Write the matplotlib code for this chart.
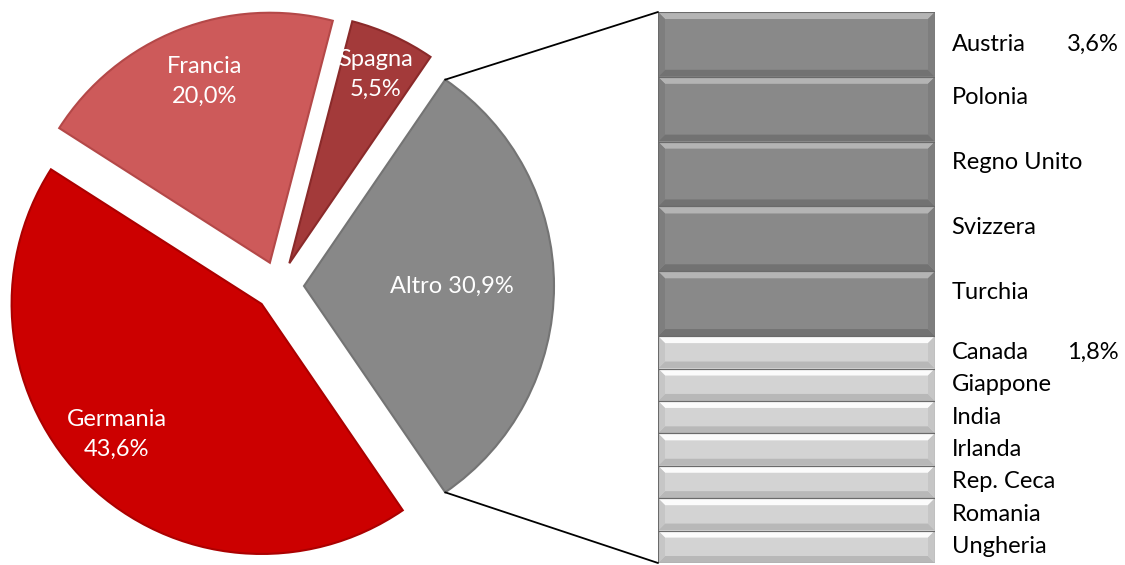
import numpy as np
import matplotlib.pyplot as plt
from matplotlib.patches import Polygon, ConnectionPatch

plt.rcParams['font.family'] = ['Lato', 'DejaVu Sans']

# pie: main countries plus the grouped "Altro" share
pie_labels = ["Altro", "Spagna", "Francia", "Germania"]
pie_values = [30.9, 5.5, 20.0, 43.6]
pie_colors = ["#888888", "#a33a3a", "#cd5a5a", "#cc0000"]
pie_edges = ["#747474", "#8a2a2a", "#b44848", "#ab0000"]

# breakdown of "Altro"
bar_labels = ["Austria", "Polonia", "Regno Unito", "Svizzera", "Turchia",
              "Canada", "Giappone", "India", "Irlanda", "Rep. Ceca",
              "Romania", "Ungheria"]
bar_values = [3.6, 3.6, 3.6, 3.6, 3.6,
              1.8, 1.8, 1.8, 1.8, 1.8, 1.8, 1.8]


def fmt(v):
    return f"{v:.1f}%".replace(".", ",")


W, H = 1125, 565
FS = 17
fig = plt.figure(figsize=(W / 100, H / 100), dpi=100)

# pie axes: centre at (279, 286) px, radius 250 px
cx, cy, half = 279, 286, 300
ax = fig.add_axes([(cx - half) / W, (H - cy - half) / H, 2 * half / W, 2 * half / H])

start = -pie_values[0] / 100 * 360 / 2
wedges, _ = ax.pie(pie_values, colors=pie_colors, startangle=start,
                   explode=[0.1] * 4, counterclock=True, radius=1.0,
                   wedgeprops=dict(linewidth=1.5))
for w, ec in zip(wedges, pie_edges):
    w.set_edgecolor(ec)
ax.set_xlim(-1.2, 1.2)
ax.set_ylim(-1.2, 1.2)
ax.axis("off")

# (distance, angle shift in degrees) of each label inside its wedge
label_pos = [(0.59, 0), (0.83, 0), (0.77, -1.5), (0.78, -4)]
for w, name, v, (d, da) in zip(wedges, pie_labels, pie_values, label_pos):
    tm = np.deg2rad((w.theta1 + w.theta2) / 2 + da)
    x = w.center[0] + d * np.cos(tm)
    y = w.center[1] + d * np.sin(tm)
    txt = f"{name} {fmt(v)}" if name == "Altro" else f"{name}\n{fmt(v)}"
    ax.text(x, y, txt, color="white", fontsize=FS, ha="center", va="center",
            linespacing=1.5)

# stacked bar for the breakdown
bx0, bx1, by0, by1 = 658, 935, 12, 563
bax = fig.add_axes([bx0 / W, (H - by1) / H, (bx1 - bx0) / W, (by1 - by0) / H])
total = sum(bar_values)
bax.set_xlim(0, 1)
bax.set_ylim(total, 0)
bax.axis("off")

ex = 7 / (bx1 - bx0)
ey = 7 * total / (by1 - by0)
bottoms = np.concatenate([[0], np.cumsum(bar_values)[:-1]])
for i, (name, v, b) in enumerate(zip(bar_labels, bar_values, bottoms)):
    dark = v == max(bar_values)
    face = "#898989" if dark else "#d3d3d3"
    top_c = "#b4b4b4" if dark else "#fbfbfb"
    bot_c = "#727272" if dark else "#b8b8b8"
    side_c = "#7e7e7e" if dark else "#c6c6c6"
    bax.bar(0.5, v, bottom=b, width=1, color=face, edgecolor="#6a6a6a",
            linewidth=0.8, zorder=1)
    t, u = b, b + v
    bevels = [
        ([(0, t), (1, t), (1 - ex, t + ey), (ex, t + ey)], top_c),
        ([(0, u), (1, u), (1 - ex, u - ey), (ex, u - ey)], bot_c),
        ([(0, t), (ex, t + ey), (ex, u - ey), (0, u)], side_c),
        ([(1, t), (1 - ex, t + ey), (1 - ex, u - ey), (1, u)], side_c),
    ]
    for pts, c in bevels:
        bax.add_patch(Polygon(pts, closed=True, facecolor=c, edgecolor="none", zorder=2))
    bax.add_patch(plt.Rectangle((0, t), 1, v, fill=False, edgecolor="#6a6a6a",
                                linewidth=0.8, zorder=3))
    ym = b + v / 2
    # the taller segments carry their label a little above centre
    if dark and i > 0:
        ym -= 0.65
    first = i == 0 or bar_values[i - 1] != v
    bax.text(1.06, ym, name, fontsize=FS, ha="left", va="center", clip_on=False)
    if first:
        bax.text(1.475, ym, fmt(v), fontsize=FS, ha="left", va="center", clip_on=False)

# lines joining the "Altro" wedge to the bar
w0 = wedges[0]
for ang, ybar in [(w0.theta2, 0), (w0.theta1, total)]:
    a = np.deg2rad(ang)
    p = (w0.center[0] + np.cos(a), w0.center[1] + np.sin(a))
    con = ConnectionPatch(xyA=p, coordsA=ax.transData, xyB=(0, ybar),
                          coordsB=bax.transData, color="black", linewidth=1.3)
    fig.add_artist(con)

fig.savefig("out.png", dpi=100)
